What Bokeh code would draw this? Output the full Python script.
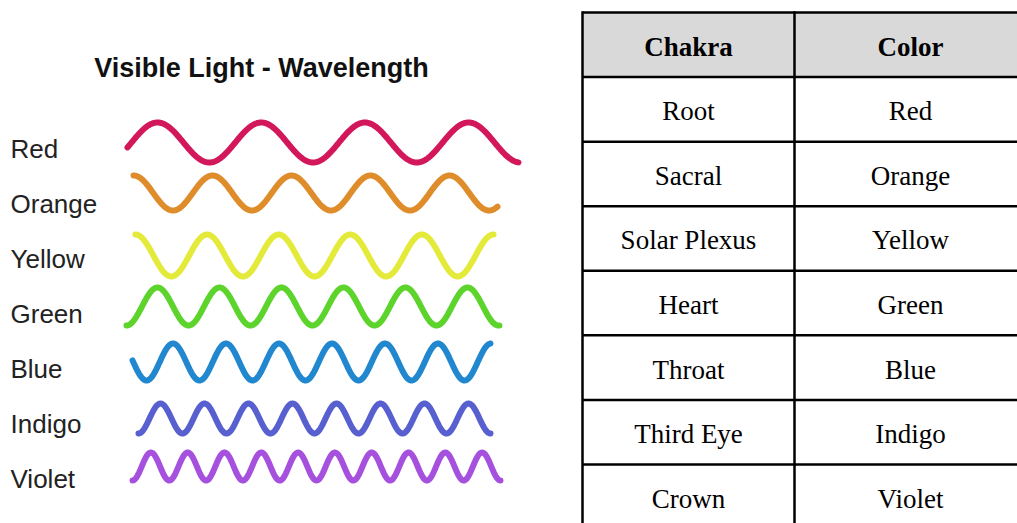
import numpy as np
from bokeh.plotting import figure
from bokeh.models import Range1d, ColumnDataSource
from bokeh.core.properties import value
from bokeh.embed import file_html
from bokeh.resources import INLINE

# ---------------- data ----------------
title_text = "Visible Light - Wavelength"
band_names = ["Red", "Orange", "Yellow", "Green", "Blue", "Indigo", "Violet"]
band_colors = ["#d3175b", "#df8c2a", "#e4ea3a", "#5cd42c", "#2187cf", "#5860cf", "#a651dd"]
wavelength_px = [103.7, 79.0, 71.6, 62.0, 53.0, 44.0, 36.8]   # period of each wave as drawn
amplitude_px = [20.0, 17.5, 21.0, 19.0, 18.5, 15.0, 14.0]

table_header = ["Chakra", "Color"]
chakras = ["Root", "Sacral", "Solar Plexus", "Heart", "Throat", "Third Eye", "Crown"]
chakra_colors = ["Red", "Orange", "Yellow", "Green", "Blue", "Indigo", "Violet"]

# ---------------- layout ----------------
W, H = 1017, 523
wave_center = [142, 192.5, 255, 306, 361.5, 418, 466]
wave_start = [127, 133, 135, 126, 132, 138, 132]
wave_end = [518, 497, 493, 499, 490, 490, 500]
wave_peak_x = [157, 133, 135, 157, 172.5, 160, 150.4]
label_x, label_y0, label_dy = 10, 148, 55

tbl_left, tbl_mid, tbl_right = 582, 794, 1030
tbl_top, row_h = 12, 64.57
n_rows = len(chakras) + 1

p = figure(width=W, height=H, output_backend="svg", toolbar_location=None,
           x_range=Range1d(0, W), y_range=Range1d(H, 0),
           x_axis_location=None, y_axis_location=None, min_border=0)
p.grid.visible = False
p.outline_line_color = None
p.background_fill_color = "white"
p.border_fill_color = "white"

# waves
xs_all, ys_all = [], []
for i in range(len(band_names)):
    x = np.linspace(wave_start[i], wave_end[i], 500)
    y = wave_center[i] - amplitude_px[i] * np.cos(2 * np.pi * (x - wave_peak_x[i]) / wavelength_px[i])
    xs_all.append(x.tolist())
    ys_all.append(y.tolist())
p.multi_line(xs=xs_all, ys=ys_all, line_color=band_colors, line_width=6, line_cap="round",
             line_join="round")

# labels
lab_src = ColumnDataSource(dict(x=[label_x] * len(band_names),
                                y=[label_y0 + label_dy * i for i in range(len(band_names))],
                                t=band_names))
p.text(x="x", y="y", text="t", source=lab_src, text_font=value("Liberation Sans"),
       text_font_size="26px", text_color="#222222", text_baseline="middle", text_align="left")

# title
p.text(x=[261], y=[67], text=[title_text], text_font=value("Liberation Sans"),
       text_font_style="bold", text_font_size="27px", text_color="#111111",
       text_baseline="middle", text_align="center")

# table header fill
p.quad(left=[tbl_left], right=[tbl_right], top=[tbl_top], bottom=[tbl_top + row_h],
       fill_color="#d9d9d9", line_color=None)

# grid lines
hy = [tbl_top + k * row_h for k in range(n_rows)]
p.segment(x0=[tbl_left] * len(hy), x1=[tbl_right] * len(hy), y0=hy, y1=hy,
          line_color="black", line_width=2.5)
vx = [tbl_left, tbl_mid]
p.segment(x0=vx, x1=vx, y0=[tbl_top - 1.2] * 2, y1=[tbl_top + n_rows * row_h] * 2,
          line_color="black", line_width=2.5)

c1 = (tbl_left + tbl_mid) / 2
c2 = tbl_mid + 116
# header text
p.text(x=[c1, c2], y=[tbl_top + row_h / 2 + 2] * 2, text=table_header,
       text_font=value("Liberation Serif"), text_font_style="bold", text_font_size="27px",
       text_color="black", text_baseline="middle", text_align="center")
# body text
ry = [tbl_top + (i + 1.5) * row_h + 2 for i in range(len(chakras))]
body = ColumnDataSource(dict(x1=[c1] * len(chakras), x2=[c2] * len(chakras), y=ry,
                             a=chakras, b=chakra_colors))
p.text(x="x1", y="y", text="a", source=body, text_font=value("Liberation Serif"),
       text_font_size="27px", text_color="black", text_baseline="middle", text_align="center")
p.text(x="x2", y="y", text="b", source=body, text_font=value("Liberation Serif"),
       text_font_size="27px", text_color="black", text_baseline="middle", text_align="center")

open("out.html", "w").write(file_html(p, INLINE))
